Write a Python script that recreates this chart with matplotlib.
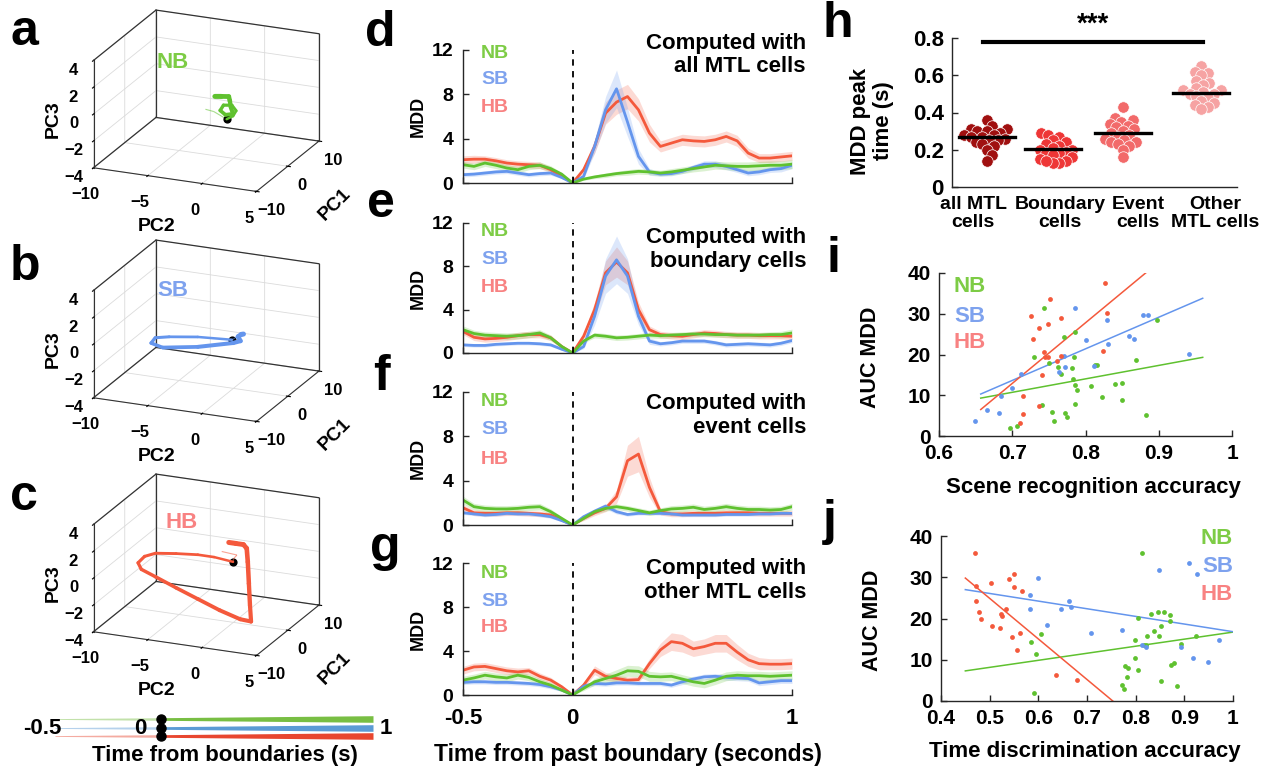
import numpy as np
import matplotlib
matplotlib.use('Agg')
import matplotlib.pyplot as plt
from mpl_toolkits.mplot3d.art3d import Line3DCollection

plt.rcParams['font.family'] = ['Liberation Sans', 'DejaVu Sans']
plt.rcParams['font.weight'] = 'bold'
plt.rcParams['axes.labelweight'] = 'bold'

# ---------------- colours ----------------
C_NB, C_SB, C_HB = '#5fc12f', '#6495ed', '#f4593c'
T_NB, T_SB, T_HB = '#7dcc45', '#7ea2ee', '#f88282'

# ---------------- data: 3D trajectories (PC1, PC2, PC3) ----------------
NB_pre_pc1 = [-2, -2, -2, -2]
NB_pre_pc2 = [-2.0, -1.23, -0.54, -0.05]
NB_pre_pc3 = [-0.2, -0.28, -0.53, -0.71]
NB_post_pc1 = [-2, -2, -2, -2, -2, -2, -2, -2, -2, -2, -2, -2, -2]
NB_post_pc2 = [-0.05, 0.54, 0.83, 0.44, -0.34, -0.64, -0.15, 0.54, 0.34, 0.25, 0.15, -0.54, -1.13]
NB_post_pc3 = [-0.71, -0.41, 0.02, 0.39, 0.30, -0.13, -0.40, -0.25, 0.21, 0.69, 1.0, 0.93, 0.86]

SB_pre_pc1 = [-2, -2, -2]
SB_pre_pc2 = [0.9, 0.7, 0.44]
SB_pre_pc3 = [0.35, 0.2, 0.05]
SB_post_pc1 = [-2, -2, -2, -2, -2, -2, -2, -2, -2, -2, -2, -2]
SB_post_pc2 = [0.44, -2.7, -5.34, -6.62, -7.0, -5.93, -2.7, 0.54, 1.23, 1.0, 1.3, 1.5]
SB_post_pc3 = [0.05, -0.11, -0.41, -0.63, -1.07, -1.28, -0.85, -0.18, 0.05, 0.35, 0.55, 0.6]

HB_pre_pc1 = [-2, -2, -2, -2]
HB_pre_pc2 = [-0.5, 0.9, 0.6, 0.54]
HB_pre_pc3 = [1.6, 1.5, 1.2, 0.95]
HB_post_pc1 = [-2, -2, -2, -2, -2, -2, -2, -2, -2, -2, -2, -2, -2, -2, -2, -2, -2, -2, -2, -2, -2]
HB_post_pc2 = [0.54, -1.2, -2.7, -4.7, -6.6, -7.6, -8.2, -7.9, -6.6, -4.7, -2.7, -0.7,
               1.2, 2.2, 2.1, 2.0, 1.9, 1.8, 1.5, 0.8, 0.15]
HB_post_pc3 = [0.95, 1.1, 1.1, 0.95, 0.75, 0.4, -0.15, -0.6, -1.0, -1.6, -2.2, -2.8,
               -3.25, -3.3, -2.1, -0.5, 1.1, 2.1, 2.35, 2.35, 2.35]

# ---------------- data: MDD time courses ----------------
t = [-0.5, -0.45, -0.4, -0.35, -0.3, -0.25, -0.2, -0.15, -0.1, -0.05, 0.0,
     0.05, 0.1, 0.15, 0.2, 0.25, 0.3, 0.35, 0.4, 0.45, 0.5,
     0.55, 0.6, 0.65, 0.7, 0.75, 0.8, 0.85, 0.9, 0.95, 1.0]

d_NB = [1.65,1.5,1.8,1.6,1.35,1.2,1.5,1.6,1.3,0.8,0.0, 0.35,0.55,0.7,0.85,0.95,1.05,1.0,0.9,1.0,1.15,1.3,1.45,1.6,1.55,1.5,1.5,1.55,1.6,1.6,1.7]
d_SB = [0.75,0.8,0.9,1.0,1.05,0.9,0.75,0.85,0.9,0.5,0.0, 0.6,3.3,6.6,8.5,5.5,2.4,1.0,0.8,0.85,1.05,1.4,1.7,1.7,1.5,1.2,0.9,1.0,1.2,1.3,1.6]
d_HB = [2.1,2.15,2.15,2.0,1.8,1.7,1.65,1.6,1.2,0.6,0.0, 1.2,3.3,6.3,7.3,7.8,6.6,4.5,3.3,3.6,3.9,3.8,3.75,3.9,4.2,3.8,2.7,2.25,2.25,2.35,2.45]
d_NB_e = [0.3,0.3,0.3,0.3,0.3,0.3,0.3,0.3,0.25,0.15,0.0, 0.1,0.15,0.2,0.2,0.25,0.25,0.25,0.25,0.3,0.3,0.3,0.35,0.35,0.35,0.4,0.4,0.4,0.4,0.4,0.4]
d_SB_e = [0.2,0.2,0.2,0.2,0.2,0.2,0.2,0.2,0.2,0.1,0.0, 0.2,0.6,1.2,1.7,1.3,0.7,0.3,0.2,0.2,0.2,0.25,0.3,0.3,0.3,0.25,0.25,0.25,0.25,0.3,0.3]
d_HB_e = [0.35,0.35,0.3,0.3,0.3,0.3,0.3,0.3,0.25,0.15,0.0, 0.3,0.6,1.0,1.1,1.1,1.0,0.8,0.5,0.5,0.5,0.5,0.5,0.5,0.5,0.5,0.45,0.4,0.4,0.4,0.4]

e_NB = [2.15,1.8,1.65,1.6,1.55,1.6,1.7,1.85,1.4,0.6,0.0, 1.1,1.65,1.55,1.4,1.45,1.55,1.65,1.6,1.65,1.7,1.75,1.75,1.7,1.7,1.65,1.65,1.65,1.7,1.7,1.85]
e_SB = [0.75,0.7,0.7,0.8,0.85,0.9,0.9,0.85,0.75,0.35,0.0, 0.6,3.4,7.1,8.6,7.1,3.4,1.1,0.85,0.95,1.1,1.1,1.1,0.95,0.75,0.8,0.85,0.8,0.75,0.9,1.15]
e_HB = [2.0,1.45,1.3,1.35,1.45,1.6,1.7,1.7,1.4,0.6,0.0, 1.55,4.0,7.4,8.4,7.4,4.0,2.15,1.7,1.6,1.55,1.7,1.85,1.8,1.7,1.65,1.65,1.6,1.6,1.6,1.55]
e_NB_e = [0.35,0.3,0.3,0.3,0.3,0.3,0.3,0.3,0.25,0.15,0.0, 0.15,0.25,0.25,0.25,0.25,0.25,0.25,0.25,0.25,0.25,0.25,0.25,0.25,0.25,0.25,0.25,0.25,0.25,0.3,0.35]
e_SB_e = [0.15,0.15,0.15,0.15,0.15,0.15,0.15,0.15,0.15,0.1,0.0, 0.2,0.8,1.6,2.2,1.6,0.8,0.3,0.2,0.2,0.2,0.2,0.2,0.2,0.2,0.2,0.2,0.2,0.2,0.2,0.2]
e_HB_e = [0.3,0.3,0.3,0.3,0.3,0.3,0.3,0.3,0.25,0.15,0.0, 0.3,0.7,1.1,1.4,1.1,0.7,0.35,0.3,0.3,0.3,0.3,0.3,0.3,0.3,0.3,0.3,0.3,0.3,0.3,0.3]

f_NB = [2.25,1.65,1.5,1.45,1.45,1.5,1.6,1.65,1.2,0.6,0.0, 0.6,1.2,1.5,1.65,1.5,1.3,1.1,1.3,1.45,1.5,1.6,1.4,1.5,1.65,1.5,1.4,1.4,1.35,1.4,1.65]
f_SB = [1.1,1.0,0.9,0.95,1.05,1.0,1.0,0.9,0.75,0.4,0.0, 0.75,1.25,1.7,1.2,0.95,1.05,1.05,1.05,1.0,0.9,0.9,0.9,0.9,0.95,0.95,0.95,1.0,1.0,1.05,1.05]
f_HB = [1.55,1.1,1.05,1.05,1.1,1.1,1.05,1.0,0.9,0.45,0.0, 0.6,1.1,1.5,2.55,5.8,6.4,3.4,1.2,1.0,1.0,1.05,1.05,1.05,1.1,1.1,1.1,1.05,1.05,1.05,1.05]
f_NB_e = [0.35,0.3,0.3,0.3,0.3,0.3,0.3,0.3,0.25,0.15,0.0, 0.15,0.2,0.25,0.25,0.25,0.25,0.25,0.25,0.3,0.3,0.3,0.3,0.3,0.3,0.3,0.3,0.3,0.3,0.3,0.3]
f_SB_e = [0.15,0.15,0.15,0.15,0.15,0.15,0.15,0.15,0.15,0.1,0.0, 0.15,0.2,0.25,0.2,0.15,0.15,0.15,0.15,0.15,0.15,0.15,0.15,0.15,0.15,0.15,0.15,0.15,0.15,0.15,0.15]
f_HB_e = [0.3,0.25,0.25,0.25,0.25,0.25,0.25,0.25,0.2,0.1,0.0, 0.2,0.25,0.3,0.6,1.4,1.6,0.9,0.3,0.25,0.25,0.25,0.25,0.25,0.25,0.25,0.25,0.25,0.25,0.25,0.25]

g_NB = [1.35,1.55,1.8,1.65,1.55,1.8,1.6,1.2,0.9,0.45,0.0, 0.6,1.2,1.5,1.8,2.2,2.15,1.7,1.65,1.7,1.45,1.2,1.05,1.35,1.7,1.8,1.75,1.75,1.7,1.75,1.8]
g_SB = [1.15,1.2,1.2,1.15,1.15,1.1,1.05,0.95,0.75,0.45,0.0, 0.8,1.05,1.0,1.1,1.1,1.05,1.05,1.05,0.9,1.2,1.45,1.65,1.7,1.6,1.55,1.5,1.1,1.2,1.3,1.3]
g_HB = [2.25,2.55,2.6,2.4,2.2,2.1,2.2,1.7,1.35,0.75,0.0, 0.9,2.25,1.7,1.5,1.35,1.4,2.85,4.1,4.85,4.7,4.2,4.4,4.7,4.7,3.9,3.2,2.85,2.8,2.8,2.85]
g_NB_e = [0.35,0.35,0.35,0.35,0.35,0.35,0.3,0.3,0.25,0.15,0.0, 0.2,0.3,0.4,0.5,0.5,0.5,0.45,0.4,0.4,0.4,0.4,0.4,0.4,0.4,0.4,0.4,0.4,0.4,0.4,0.4]
g_SB_e = [0.2,0.2,0.2,0.2,0.2,0.2,0.2,0.2,0.2,0.1,0.0, 0.2,0.2,0.2,0.2,0.2,0.2,0.2,0.2,0.2,0.25,0.25,0.25,0.25,0.25,0.25,0.25,0.25,0.25,0.25,0.25]
g_HB_e = [0.35,0.35,0.35,0.35,0.35,0.35,0.3,0.3,0.25,0.15,0.0, 0.25,0.4,0.35,0.3,0.3,0.3,0.45,0.6,0.8,0.8,0.7,0.7,0.8,0.8,0.7,0.6,0.55,0.5,0.5,0.5]

# ---------------- data: panel h ----------------
peak_cats = ['all MTL\ncells', 'Boundary\ncells', 'Event\ncells', 'Other\nMTL cells']
peak_all = [0.36,0.33,0.31,0.31,0.30,0.30,0.29,0.28,0.28,0.27,0.27,0.26,0.25,0.25,0.24,0.23,0.22,0.20,0.17,0.14]
peak_bound = [0.29,0.28,0.27,0.25,0.24,0.23,0.22,0.21,0.20,0.20,0.19,0.18,0.18,0.17,0.16,0.15,0.14,0.13,0.13,0.14]
peak_event = [0.43,0.37,0.36,0.35,0.34,0.33,0.32,0.31,0.30,0.29,0.28,0.27,0.26,0.25,0.24,0.24,0.23,0.22,0.20,0.16]
peak_other = [0.65,0.62,0.61,0.60,0.57,0.56,0.55,0.53,0.52,0.52,0.51,0.50,0.50,0.49,0.48,0.46,0.45,0.44,0.43,0.42]
peak_means = [0.27, 0.205, 0.29, 0.505]
peak_colors = ['#a01010', '#ee3636', '#f26a6a', '#f6a3a3']

# ---------------- data: panel i ----------------
i_NB_x = [0.697,0.707,0.730,0.743,0.741,0.750,0.754,0.757,0.763,0.766,0.771,0.772,0.775,0.782,0.783,
          0.784,0.785,0.786,0.786,0.788,0.807,0.813,0.816,0.823,0.840,0.850,0.850,0.869,0.882,0.897]
i_NB_y = [2.0,2.5,19.4,31.3,7.5,17.8,5.9,3.6,17.0,15.2,24.2,5.7,4.7,16.8,13.9,
          19.4,7.8,25.6,12.5,11.2,12.3,17.4,17.4,9.6,12.7,13.1,8.8,18.6,5.1,28.4]
i_SB_x = [0.649,0.665,0.682,0.685,0.699,0.712,0.770,0.772,0.764,0.786,0.801,0.811,0.829,0.831,
          0.859,0.866,0.878,0.885,0.941]
i_SB_y = [3.7,6.3,5.7,9.8,11.9,15.3,19.6,17.0,15.7,31.5,23.5,17.2,28.4,22.5,24.5,23.7,29.8,29.7,20.1]
i_HB_x = [0.710,0.715,0.714,0.725,0.729,0.736,0.736,0.740,0.743,0.745,0.749,0.749,0.751,0.761,
          0.766,0.767,0.826,0.824,0.830]
i_HB_y = [3.3,5.5,9.8,29.5,23.7,26.6,7.4,14.9,20.7,19.3,19.3,27.5,33.5,18.4,29.0,19.7,37.5,20.9,30.1]
i_fit_x = [0.657, 0.96]
i_fit_NB = [9.3, 19.3]
i_fit_SB = [10.3, 33.8]
i_fit_HB = [6.5, 51.6]

# ---------------- data: panel j ----------------
j_HB_x = [0.470,0.472,0.472,0.478,0.482,0.503,0.505,0.522,0.524,0.525,0.533,0.540,0.546,0.549,
          0.551,0.556,0.563,0.566,0.637,0.679]
j_HB_y = [35.9,27.9,24.3,21.5,20.0,28.7,18.1,17.8,21.0,20.6,22.3,29.5,15.5,27.7,30.9,12.3,16.6,26.6,6.2,5.0]
j_NB_x = [0.585,0.595,0.591,0.606,0.814,0.771,0.775,0.779,0.783,0.785,0.798,0.799,0.804,0.805,0.817,
          0.821,0.824,0.831,0.838,0.846,0.848,0.852,0.853,0.858,0.870,0.871,0.872,0.879,0.885,0.894,0.924]
j_NB_y = [14.3,11.5,1.9,16.2,35.9,3.8,3.0,8.4,5.8,7.9,14.7,10.5,7.6,20.2,13.5,
          13.5,15.7,21.2,16.9,21.6,15.8,4.8,18.1,21.6,19.4,20.9,8.7,9.2,3.6,13.7,15.8]
j_SB_x = [0.583,0.583,0.599,0.617,0.647,0.664,0.667,0.708,0.771,0.812,0.821,0.848,0.894,0.910,
          0.918,0.925,0.949,0.971]
j_SB_y = [25.8,22.2,29.9,18.4,22.4,24.3,22.8,16.4,17.2,13.5,13.1,31.7,13.0,33.5,10.4,30.9,9.5,14.9]
j_fit_x = [0.45, 1.0]
j_fit_NB = [7.3, 16.7]
j_fit_SB = [27.0, 16.8]
j_fit_HB = [29.8, -24.3]

# =====================================================================
W, H = 1275, 771
fig = plt.figure(figsize=(W / 100, H / 100), dpi=100)


def rect(l, tp, r, b):
    return [l / W, 1 - b / H, (r - l) / W, (b - tp) / H]


def ftext(x, y, s, **kw):
    kw.setdefault('ha', 'center')
    kw.setdefault('va', 'center')
    fig.text(x / W, 1 - y / H, s, **kw)


def style2d(ax):
    for s in ('top', 'right'):
        ax.spines[s].set_visible(False)
    for s in ('left', 'bottom'):
        ax.spines[s].set_color('#262626')
        ax.spines[s].set_linewidth(1.0)
    ax.tick_params(direction='in', length=4, width=1, color='#262626')


# ---------------- 3D panels ----------------
def panel3d(r, pre, post, color, zoom):
    ax = fig.add_axes(r, projection='3d', proj_type='ortho')
    ax.set_facecolor('none')
    ax.view_init(elev=20, azim=-67)
    ax.set_box_aspect((1.55, 1.40, 1.0), zoom=zoom)
    x0, x1, y0, y1, z0, z1 = -10, 5, -10, 10, -4, 4
    ax.set_xlim(x0, x1)
    ax.set_ylim(y0, y1)
    ax.set_zlim(z0, z1)
    ax.set_xticks([-10, -5, 0, 5])
    ax.set_yticks([-10, 0, 10])
    ax.set_zticks([-4, -2, 0, 2, 4])
    for a in (ax.xaxis, ax.yaxis, ax.zaxis):
        a.set_pane_color((1, 1, 1, 0))
        a._axinfo['grid'].update(color=(0.86, 0.86, 0.86, 1), linewidth=0.6)
        a.line.set_color('#333333')
    # box edges (MATLAB style)
    edges = [((x0, y1, z0), (x0, y1, z1)), ((x0, y0, z1), (x0, y1, z1)),
             ((x0, y1, z1), (x1, y1, z1)), ((x1, y1, z0), (x1, y1, z1)),
             ((x0, y1, z0), (x1, y1, z0)), ((x0, y0, z0), (x0, y1, z0))]
    for p, q in edges:
        ax.plot([p[0], q[0]], [p[1], q[1]], [p[2], q[2]], color='#333333', lw=0.9)
    ax.zaxis.set_ticks_position('lower')
    ax.zaxis.set_label_position('lower')
    ax.tick_params(labelsize=12, pad=0)
    ax.xaxis.set_tick_params(pad=3)
    ax.set_xlabel('PC2', fontsize=14, labelpad=6)
    ax.yaxis.set_rotate_label(False)
    ax.set_ylabel('PC1', fontsize=14, labelpad=5, rotation=45)
    ax.zaxis.set_rotate_label(False)
    ax.set_zlabel('PC3', fontsize=14, labelpad=-5, rotation=90)
    p1, p2, p3 = pre
    q1, q2, q3 = post
    pts = np.column_stack([p2, p1, p3])
    segs = [pts[k:k + 2] for k in range(len(pts) - 1)]
    ax.add_collection3d(Line3DCollection(segs, colors=color, linewidths=0.8, alpha=0.55))
    pts = np.column_stack([q2, q1, q3])
    segs = [pts[k:k + 2] for k in range(len(pts) - 1)]
    lws = np.linspace(1.8, 3.6, len(segs))
    ax.add_collection3d(Line3DCollection(segs, colors=color, linewidths=lws, capstyle='round'))
    ax.scatter([q2[0]], [q1[0]], [q3[0]], color='k', s=24, depthshade=False, zorder=10)
    return ax


panel3d(rect(28, -16, 378, 224), (NB_pre_pc1, NB_pre_pc2, NB_pre_pc3),
        (NB_post_pc1, NB_post_pc2, NB_post_pc3), C_NB, 1.07)
panel3d(rect(28, 214, 378, 454), (SB_pre_pc1, SB_pre_pc2, SB_pre_pc3),
        (SB_post_pc1, SB_post_pc2, SB_post_pc3), C_SB, 1.07)
panel3d(rect(28, 448, 378, 688), (HB_pre_pc1, HB_pre_pc2, HB_pre_pc3),
        (HB_post_pc1, HB_post_pc2, HB_post_pc3), C_HB, 1.07)
ftext(173, 63, 'NB', color=T_NB, fontsize=16)
ftext(173, 290, 'SB', color=T_SB, fontsize=16)
ftext(182, 523, 'HB', color=T_HB, fontsize=16)

# colour-bar legend below panel c
axl = fig.add_axes(rect(55, 710, 373, 745))
axl.set_xlim(-0.5, 1)
axl.set_ylim(0, 35)
axl.axis('off')
xx = np.array([-0.5, 0.0, 1.0])
hw = np.array([0.4, 1.3, 3.3])
for cy, col in ((26, '#78be43'), (17, '#5b9bd5'), (9, '#e8462f')):
    axl.fill_between(xx[:2], cy - hw[:2], cy + hw[:2], color=col, alpha=0.45, lw=0)
    axl.fill_between(xx[1:], cy - hw[1:], cy + hw[1:], color=col, lw=0)
    axl.plot([0], [cy], 'o', color='k', ms=6.5, clip_on=False)
ftext(42, 728, '-0.5', fontsize=16)
ftext(140, 728, '0', fontsize=16)
ftext(386, 728, '1', fontsize=16)
ftext(225, 755, 'Time from boundaries (s)', fontsize=16)

# ---------------- MDD panels d-g ----------------
mdd = [
    ((463, 50, 792, 183), (d_NB, d_NB_e), (d_SB, d_SB_e), (d_HB, d_HB_e),
     'Computed with\nall MTL cells', 55, (53, 80, 108)),
    ((463, 223, 792, 353), (e_NB, e_NB_e), (e_SB, e_SB_e), (e_HB, e_HB_e),
     'Computed with\nboundary cells', 249.5, (232, 260, 288)),
    ((463, 392, 792, 525), (f_NB, f_NB_e), (f_SB, f_SB_e), (f_HB, f_HB_e),
     'Computed with\nevent cells', 415.5, (402, 430, 459)),
    ((463, 563, 792, 695), (g_NB, g_NB_e), (g_SB, g_SB_e), (g_HB, g_HB_e),
     'Computed with\nother MTL cells', 580.5, (573, 601, 628)),
]
tt = np.array(t)
for k, (rr, nb, sb, hb, title, ty, ly) in enumerate(mdd):
    ax = fig.add_axes(rect(*rr))
    style2d(ax)
    for (m, e), c in ((hb, C_HB), (sb, C_SB), (nb, C_NB)):
        m = np.array(m); e = np.array(e)
        ax.fill_between(tt, m - e, m + e, color=c, alpha=0.22, lw=0)
    for (m, e), c in ((hb, C_HB), (sb, C_SB), (nb, C_NB)):
        ax.plot(tt, m, color=c, lw=2.0, solid_capstyle='round', solid_joinstyle='round')
    ax.plot([0, 0], [0, 12], color='k', lw=1.3, ls=(0, (3.5, 3)))
    ax.set_xlim(-0.5, 1)
    ax.set_ylim(0, 12)
    ax.set_yticks([0, 4, 8, 12])
    ax.set_xticks([-0.5, 0, 1])
    ax.tick_params(axis='y', labelsize=14, pad=7)
    ax.tick_params(axis='x', labelsize=16, pad=9)
    if k < 3:
        ax.set_xticklabels([])
    else:
        ax.set_xticklabels(['-0.5', '0', '1'])
    ftext(806, ty, title, ha='right', fontsize=16, multialignment='right', linespacing=1.15)
    ftext(418, (rr[1] + rr[3]) / 2, 'MDD', rotation=90, fontsize=13)
    for s, c, y in zip(('NB', 'SB', 'HB'), (T_NB, T_SB, T_HB), ly):
        ftext(495, y, s, color=c, fontsize=14)
ftext(628, 755, 'Time from past boundary (seconds)', fontsize=16.5)

# ---------------- panel h ----------------
XS, YS, DIAM = 70.0, 186.25, 6.5


def swarm(vals):
    vals = np.asarray(vals, dtype=float)
    order = np.argsort(vals)
    placed = []
    offs = np.zeros(len(vals))
    cands = [0.0]
    for k in range(1, 80):
        cands += [k * DIAM * 0.25, -k * DIAM * 0.25]
    for i in order:
        yv = vals[i] * YS
        for c in cands:
            if all((c - px) ** 2 + (yv - py) ** 2 >= DIAM ** 2 for px, py in placed):
                break
        placed.append((c, yv))
        offs[i] = c / XS
    return offs


axh = fig.add_axes(rect(952, 38, 1237, 187))
style2d(axh)
axh.set_xlim(0.5, 4.57)
axh.set_ylim(0, 0.8)
cat_x = [1.0, 1.94, 2.94, 4.06]
for k, vals in enumerate((peak_all, peak_bound, peak_event, peak_other)):
    offs = swarm(vals)
    axh.scatter(cat_x[k] + offs, vals, s=68, color=peak_colors[k], edgecolor='white',
                linewidth=0.5, zorder=3)
    axh.plot([cat_x[k] - 0.4, cat_x[k] + 0.4], [peak_means[k], peak_means[k]],
             color='k', lw=2.4, zorder=4)
axh.plot([0.94, 4.09], [0.78, 0.78], color='k', lw=3, clip_on=False)
ftext(1093, 25, '***', fontsize=20)
axh.set_xticks([])
axh.set_yticks([0, 0.2, 0.4, 0.6, 0.8])
axh.set_yticklabels(['0', '0.2', '0.4', '0.6', '0.8'])
axh.tick_params(axis='y', labelsize=16, pad=6)
for x, lab in zip((973, 1060, 1138, 1215), peak_cats):
    ftext(x, 213.5, lab, fontsize=14, multialignment='center', linespacing=1.15)
ftext(872, 121, 'MDD peak\ntime (s)', rotation=90, fontsize=16, multialignment='center',
      linespacing=1.15)

# ---------------- panel i ----------------
axi = fig.add_axes(rect(939, 273, 1232, 436))
style2d(axi)
for xs, ys, c in ((i_NB_x, i_NB_y, C_NB), (i_SB_x, i_SB_y, C_SB), (i_HB_x, i_HB_y, C_HB)):
    axi.scatter(xs, ys, s=12, color=c, lw=0, zorder=3)
for ys, c in ((i_fit_NB, C_NB), (i_fit_SB, C_SB), (i_fit_HB, C_HB)):
    axi.plot(i_fit_x, ys, color=c, lw=1.1)
axi.set_xlim(0.6, 1)
axi.set_ylim(0, 40)
axi.set_xticks([0.6, 0.7, 0.8, 0.9, 1])
axi.set_xticklabels(['0.6', '0.7', '0.8', '0.9', '1'])
axi.set_yticks([0, 10, 20, 30, 40])
axi.tick_params(labelsize=15, pad=6)
ftext(871, 357, 'AUC MDD', rotation=90, fontsize=15.5)
ftext(1093, 487, 'Scene recognition accuracy', fontsize=16)
for s, c, y in zip(('NB', 'SB', 'HB'), (T_NB, T_SB, T_HB), (286, 316, 342)):
    ftext(970, y, s, color=c, fontsize=16)

# ---------------- panel j ----------------
axj = fig.add_axes(rect(941, 536, 1233, 701))
style2d(axj)
for xs, ys, c in ((j_NB_x, j_NB_y, C_NB), (j_SB_x, j_SB_y, C_SB), (j_HB_x, j_HB_y, C_HB)):
    axj.scatter(xs, ys, s=12, color=c, lw=0, zorder=3)
for ys, c in ((j_fit_NB, C_NB), (j_fit_SB, C_SB), (j_fit_HB, C_HB)):
    axj.plot(j_fit_x, ys, color=c, lw=1.1)
axj.set_xlim(0.4, 1)
axj.set_ylim(0, 40)
axj.set_xticks([0.4, 0.5, 0.6, 0.7, 0.8, 0.9, 1])
axj.set_xticklabels(['0.4', '0.5', '0.6', '0.7', '0.8', '0.9', '1'])
axj.set_yticks([0, 10, 20, 30, 40])
axj.tick_params(labelsize=15, pad=6)
ftext(872, 620, 'AUC MDD', rotation=90, fontsize=15.5)
ftext(1085, 752, 'Time discrimination accuracy', fontsize=16)
for s, c, y in zip(('NB', 'SB', 'HB'), (T_NB, T_SB, T_HB), (539, 567, 594)):
    ftext(1233, y, s, color=c, fontsize=16, ha='right')

# ---------------- panel letters ----------------
for s, x, y in (('a', 10, 45), ('b', 10, 280), ('c', 10, 510), ('d', 365, 46),
                ('e', 367, 217), ('f', 373, 390), ('g', 370, 561), ('h', 823, 37),
                ('i', 826, 272), ('j', 823, 535)):
    fig.text(x / W, 1 - y / H, s, fontsize=36, ha='left', va='baseline')

fig.savefig('out.png', dpi=100)
